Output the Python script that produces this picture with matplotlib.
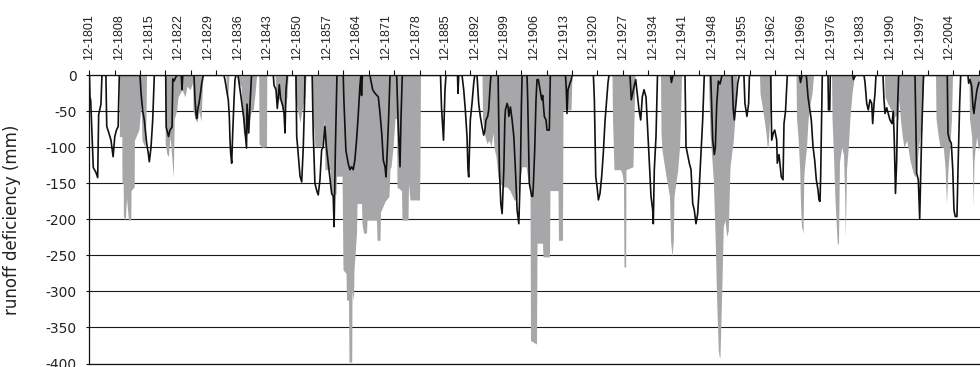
import matplotlib
matplotlib.use("Agg")
import matplotlib.pyplot as plt
from matplotlib.ticker import FixedLocator
from matplotlib import font_manager

# ---------------- data (decimal year, runoff deficiency in mm) ----------------
line_year = [
    1801.92, 1802.04, 1802.21, 1802.82, 1803.46, 1803.86, 1804.09, 1804.63, 1804.87,
    1805.8, 1806.0, 1806.5, 1807.0, 1807.5, 1807.9, 1808.3, 1808.7, 1808.8, 1808.97,
    1813.85, 1814.1, 1814.5, 1814.87, 1815.44, 1815.8, 1816.05, 1816.45, 1816.85, 1817.23,
    1819.92, 1820.04, 1820.58, 1820.94, 1821.41, 1821.6, 1821.88, 1822.35, 1822.59,
    1823.6, 1823.77, 1823.95,
    1826.6, 1826.84, 1827.07, 1827.24, 1827.55, 1827.78, 1828.02, 1828.42, 1828.8,
    1833.67, 1833.9, 1834.3, 1834.7, 1834.94, 1835.1, 1835.26, 1835.5, 1835.74, 1836.05, 1836.28, 1836.52,
    1836.99, 1837.7, 1838.41, 1839.0, 1839.12, 1839.52, 1839.83, 1840.18,
    1845.33, 1845.49, 1845.96, 1846.27, 1846.74, 1847.07, 1847.54, 1847.85, 1848.09, 1848.32, 1848.63,
    1850.68, 1850.85, 1851.08, 1851.63, 1852.03, 1852.4, 1852.69, 1852.81,
    1854.5, 1854.75, 1855.15, 1855.62, 1855.93, 1856.34, 1856.73, 1857.11, 1857.51, 1857.87,
    1858.29, 1859.1, 1859.47, 1859.68, 1859.99, 1860.35,
    1861.83, 1861.99, 1862.46, 1863.0, 1863.4, 1863.8, 1864.18, 1864.58, 1864.98, 1865.36,
    1865.76, 1866.0, 1866.16, 1866.35,
    1868.16, 1868.32, 1868.79, 1869.34, 1870.12, 1870.52, 1870.92, 1871.3, 1871.7, 1871.93,
    1872.24, 1872.57, 1872.88,
    1874.45, 1874.76, 1875.24, 1875.47, 1875.78,
    1884.8, 1885.04, 1885.51, 1885.86, 1886.1,
    1888.82, 1888.93, 1889.1,
    1889.88, 1890.28, 1890.66, 1891.06, 1891.29, 1891.46, 1891.84, 1892.24, 1892.64, 1892.88,
    1893.42, 1893.82, 1894.2, 1894.6, 1895.0, 1895.24, 1895.54, 1895.94, 1896.18, 1896.56, 1896.72,
    1898.4, 1898.71, 1899.04, 1899.35, 1899.75, 1899.99, 1900.13, 1900.53, 1900.77, 1900.94,
    1901.31, 1901.71, 1902.11, 1902.49, 1902.89, 1903.29, 1903.67, 1903.91, 1904.07,
    1905.23, 1905.39, 1905.77, 1906.34, 1906.57, 1906.71, 1907.04, 1907.35, 1907.59, 1907.9,
    1908.29, 1908.7, 1908.93, 1909.31, 1909.71, 1909.95, 1910.49, 1910.73,
    1914.31, 1914.5, 1914.67, 1914.9, 1915.38, 1915.68, 1915.85,
    1920.9, 1921.13, 1921.46, 1921.77, 1922.08, 1922.46, 1922.86, 1923.24, 1923.64, 1924.04,
    1924.35, 1924.58,
    1929.54, 1929.85, 1930.49, 1930.89, 1931.67, 1932.07, 1932.45, 1932.85, 1933.32, 1933.67,
    1934.1, 1934.5, 1934.9, 1935.04, 1935.28, 1935.68, 1936.03,
    1939.1, 1939.33, 1939.69,
    1942.53, 1942.77, 1943.55, 1943.95, 1944.35, 1944.72, 1945.12, 1945.52, 1945.9, 1946.3,
    1946.7, 1947.08,
    1948.6, 1949.07, 1949.45, 1949.69, 1950.02, 1950.4, 1950.8, 1951.27,
    1953.63, 1953.93, 1954.17, 1954.57, 1954.97, 1955.35,
    1956.44, 1956.68, 1957.15, 1957.55, 1957.74,
    1962.76, 1963.0, 1963.38, 1963.71, 1964.18, 1964.32, 1964.72, 1965.27, 1965.67, 1965.9,
    1966.26, 1966.68,
    1969.56, 1969.8, 1970.15,
    1971.17, 1971.57, 1972.35, 1972.75, 1973.15, 1973.53, 1973.93, 1974.16, 1974.4, 1974.56,
    1974.71, 1974.94,
    1976.29, 1976.41, 1976.71, 1976.83,
    1982.12, 1982.31, 1982.78,
    1984.79, 1985.03, 1985.43, 1985.8, 1986.21, 1986.61, 1986.84, 1987.15, 1987.39, 1987.62,
    1989.27, 1989.51, 1989.75, 1990.15, 1990.52, 1990.92, 1991.4, 1991.7, 1991.94, 1992.22,
    1992.5, 1992.74, 1992.98,
    1996.83, 1997.0, 1997.23, 1997.61, 1997.94, 1998.13, 1998.41, 1998.72, 1998.84,
    2004.45, 2004.62, 2005.0, 2005.4, 2005.75, 2006.03, 2006.34, 2006.74, 2006.98, 2007.38, 2007.62,
    2009.33, 2009.5, 2009.81, 2010.21, 2010.52, 2010.75, 2010.99, 2011.46, 2011.93,
]
line_mm = [
    0, -30, -35, -128, -135, -142, -55, -40, 0,
    0, -71, -80, -90, -113, -85, -76, -71, -40, 0,
    0, -25, -50, -62, -95, -108, -120, -100, -62, 0,
    0, -72, -85, -76, -72, -5, -8, -2, 0,
    0, -20, 0,
    0, -34, -53, -60, -45, -39, -30, -11, 0,
    0, -6, -20, -34, -57, -90, -108, -122, -80, -34, -6, 0,
    0, -30, -62, -101, -40, -80, -40, 0,
    0, -14, -20, -46, -13, -33, -42, -52, -80, -20, 0,
    0, -85, -100, -140, -148, -100, -40, 0,
    0, -80, -150, -161, -166, -145, -104, -99, -71, -100,
    -122, -164, -168, -210, -100, 0,
    0, -34, -104, -122, -131, -127, -131, -118, -90, -57,
    -16, 0, -28, 0,
    0, -6, -20, -25, -30, -53, -80, -118, -127, -141,
    -104, -57, 0,
    0, -60, -127, -60, 0,
    0, -45, -90, -20, 0,
    0, -25, 0,
    0, -20, -48, -85, -131, -141, -62, -39, -11, 0,
    0, -39, -57, -71, -83, -78, -62, -57, -48, -11, 0,
    0, -131, -178, -192, -131, -62, -48, -39, -44, -57,
    -44, -62, -85, -131, -187, -206, -131, -39, 0,
    0, -34, -150, -168, -168, -155, -104, -34, -6, -6,
    -20, -34, -28, -57, -62, -76, -76, 0,
    0, -20, -53, -20, -11, -6, 0,
    0, -34, -141, -155, -173, -164, -140, -108, -64, -34,
    -10, 0,
    0, -34, -16, -6, -48, -62, -30, -20, -30, -70,
    -120, -168, -187, -206, -131, -85, 0,
    0, -10, 0,
    0, -99, -122, -131, -178, -187, -206, -192, -155, -108,
    -62, 0,
    0, -90, -110, -100, -40, -8, -12, 0,
    0, -48, -62, -39, -11, 0,
    0, -39, -57, -39, 0,
    0, -90, -80, -76, -90, -122, -110, -141, -145, -67,
    -50, 0,
    0, -10, 0,
    0, -30, -62, -99, -118, -145, -159, -173, -175, -140,
    -85, 0,
    0, -48, -48, 0,
    0, -6, 0,
    0, -10, -39, -48, -34, -39, -67, -40, -25, 0,
    0, -34, -53, -45, -53, -62, -67, -50, -90, -164,
    -120, -40, 0,
    0, -60, -136, -145, -199, -150, -80, -20, 0,
    0, -81, -90, -94, -131, -187, -196, -196, -131, -39, 0,
    0, -11, -6, -15, -44, -53, -40, -20, -10,
]

gray_year = [
    1808.94, 1808.98, 1809.55, 1809.6, 1809.88, 1809.93, 1810.38, 1810.66, 1811.13, 1811.68,
    1811.73, 1812.48, 1812.53, 1812.91, 1813.62, 1814.09, 1814.33, 1815.03, 1815.27, 1815.39,
    1819.75, 1819.8, 1820.15, 1820.53, 1820.94, 1821.34, 1821.72, 1821.93, 1822.12, 1822.52,
    1822.83, 1823.3, 1823.77, 1824.48, 1824.95, 1825.66, 1826.29, 1826.36, 1826.84, 1827.31,
    1827.78, 1828.25, 1828.49, 1828.72,
    1834.15, 1834.27, 1834.63, 1834.86,
    1836.99, 1837.06, 1837.7, 1838.24, 1838.64, 1839.35, 1839.83, 1840.23, 1840.6, 1841.0, 1841.4,
    1841.88, 1841.95, 1842.66, 1843.72, 1843.79,
    1845.73, 1845.85, 1846.2, 1846.91, 1847.38, 1848.09, 1848.56, 1848.8,
    1850.33, 1850.45, 1850.92, 1851.63, 1852.34, 1852.81, 1853.05,
    1854.46, 1854.7, 1855.17, 1856.35, 1857.06, 1857.3, 1857.53, 1858.71, 1858.83, 1860.13,
    1860.25, 1861.55, 1861.78, 1862.49, 1862.61, 1863.08, 1863.2, 1863.84, 1863.91, 1864.26,
    1864.38, 1864.97, 1865.09, 1866.15, 1866.27, 1866.62, 1867.33, 1867.45, 1869.69, 1869.81,
    1870.52, 1870.64, 1871.7, 1872.64, 1872.88, 1873.12, 1873.59, 1874.06, 1874.41, 1874.53,
    1875.59, 1875.71, 1877.13, 1877.25, 1877.6, 1879.84, 1879.96, 1880.08,
    1894.6, 1894.72, 1895.31, 1895.78, 1896.25, 1896.73, 1897.2, 1897.43, 1897.91, 1898.38,
    1898.85, 1899.56, 1900.5, 1901.21, 1902.15, 1902.86, 1903.33, 1904.04, 1904.99, 1905.46,
    1905.93, 1906.05, 1907.47, 1907.59, 1908.88, 1909.0, 1910.53, 1910.65, 1912.54, 1912.66,
    1913.6, 1913.72, 1915.61, 1915.85,
    1925.29, 1925.41, 1925.76, 1927.3, 1927.65, 1928.0, 1928.12, 1928.52, 1928.59, 1930.24,
    1930.48, 1930.72,
    1936.74, 1936.86, 1937.1, 1938.04, 1938.87, 1939.11, 1939.46, 1939.77, 1939.93, 1940.81,
    1941.23, 1941.47, 1941.7,
    1948.03, 1948.43, 1948.83, 1949.21, 1949.61, 1950.0, 1950.38, 1950.67, 1950.79, 1951.19,
    1951.57, 1951.97, 1952.37, 1952.75, 1953.15, 1953.93, 1954.33, 1954.73,
    1960.12, 1960.24, 1960.94, 1961.65, 1961.96, 1962.12, 1962.52, 1962.83, 1962.95,
    1968.74, 1968.86, 1969.21, 1969.61, 1969.8, 1970.04, 1970.39, 1970.58, 1970.86, 1971.21,
    1971.57, 1972.04, 1972.51, 1972.87,
    1977.12, 1977.24, 1977.54, 1977.94, 1978.34, 1978.53, 1978.77, 1979.0, 1979.52, 1979.95,
    1980.19, 1980.38, 1980.66, 1981.08, 1981.49, 1981.96, 1982.55,
    1989.62, 1989.74, 1990.45, 1991.16, 1991.7, 1992.34, 1992.81, 1993.05, 1993.4, 1993.83,
    1994.23, 1994.87, 1995.65, 1996.42, 1996.83, 1997.23, 1997.65, 1998.01, 1998.36, 1998.79,
    1998.96,
    2001.68, 2001.79, 2002.33, 2002.73, 2003.52, 2003.91, 2004.27, 2004.62, 2005.1, 2005.45, 2005.69,
    2009.57, 2009.69, 2010.21, 2010.4, 2010.57, 2010.76, 2010.99, 2011.39, 2011.78, 2012.18,
]
gray_mm = [
    0, -85, -85, -150, -150, -195, -201, -170, -201, -201,
    -160, -155, -90, -85, -75, -40, -90, -100, -60, 0,
    0, -95, -108, -113, -85, -113, -141, -60, -57, -48,
    -30, -25, -20, -30, -15, -20, -10, -48, -60, -65,
    -50, -64, -30, 0,
    0, -30, -25, 0,
    0, -10, -15, -80, -85, -80, -57, -48, -48, -25, 0,
    0, -95, -100, -99, 0,
    0, -20, -40, -30, -48, -45, -30, 0,
    0, -30, -45, -65, -40, -30, 0,
    0, -60, -99, -99, -95, -60, -131, -131, -165, -165,
    -140, -140, -270, -275, -312, -312, -398, -398, -300, -312,
    -270, -219, -178, -178, -206, -219, -219, -201, -201, -229,
    -229, -190, -175, -168, -130, -127, -100, -60, -60, -155,
    -160, -201, -201, -150, -173, -173, -120, 0,
    0, -60, -85, -95, -90, -99, -80, -100, -113, -141,
    -150, -155, -155, -160, -173, -173, -150, -127, -127, -145,
    -160, -368, -373, -233, -233, -252, -252, -160, -160, -229,
    -229, -48, -48, 0,
    0, -60, -131, -131, -136, -150, -266, -266, -131, -127,
    -60, 0,
    0, -80, -104, -140, -168, -229, -252, -229, -168, -131,
    -100, -60, 0,
    0, -80, -113, -145, -219, -312, -381, -393, -390, -303,
    -210, -201, -224, -215, -127, -90, -57, 0,
    0, -25, -50, -80, -101, -100, -62, -34, 0,
    0, -60, -85, -131, -180, -210, -219, -140, -120, -100,
    -62, -40, -25, 0,
    0, -60, -104, -173, -219, -235, -233, -120, -100, -110,
    -160, -224, -130, -100, -57, -25, 0,
    0, -30, -40, -48, -60, -55, -62, -34, -62, -85,
    -100, -90, -118, -136, -141, -130, -100, -85, -57, -16,
    0,
    0, -60, -85, -99, -100, -127, -178, -130, -95, -60, 0,
    0, -60, -85, -120, -182, -120, -104, -85, -104, -95,
]

label_years = [1801.92 + 7 * k for k in range(30)]
x_labels = ['12-1801', '12-1808', '12-1815', '12-1822', '12-1829', '12-1836',
            '12-1843', '12-1850', '12-1857', '12-1864', '12-1871', '12-1878',
            '12-1885', '12-1892', '12-1899', '12-1906', '12-1913', '12-1920',
            '12-1927', '12-1934', '12-1941', '12-1948', '12-1955', '12-1962',
            '12-1969', '12-1976', '12-1983', '12-1990', '12-1997', '12-2004']
tickmark_years = [1801.85 + 6 * k for k in range(36)]
y_ticks = [0, -50, -100, -150, -200, -250, -300, -350, -400]

# pick a narrow sans for the rotated date labels when available
_names = {f.name for f in font_manager.fontManager.ttflist}
if 'Liberation Sans Narrow' in _names:
    xlab_family, xlab_size = 'Liberation Sans Narrow', 10.5
else:
    xlab_family, xlab_size = 'Liberation Sans', 9.0

# ---------------- figure ----------------
W, H = 980, 367
fig = plt.figure(figsize=(W / 100, H / 100), dpi=100)
ax = fig.add_axes([89 / W, 1 - 363.5 / H, (979.5 - 89) / W, (363.5 - 75.3) / H])

ax.fill_between(gray_year, gray_mm, 0, color='#a7a7a9', lw=0, zorder=2)
ax.plot(line_year, line_mm, color='#111111', lw=1.2, zorder=3)

ax.set_xlim(1801.81, 2012.06)
ax.set_ylim(-400, 0)

# horizontal grid
ax.set_yticks(y_ticks)
ax.yaxis.grid(True, color='#1a1a1a', lw=0.8)
ax.set_axisbelow(True)

for s in ['top', 'left', 'bottom']:
    ax.spines[s].set_color('#111111')
    ax.spines[s].set_linewidth(0.9)
ax.spines['right'].set_visible(False)

# x axis on top
ax.xaxis.tick_top()
ax.xaxis.set_major_locator(FixedLocator(label_years))
ax.set_xticklabels(x_labels, rotation=90, fontsize=xlab_size, family=xlab_family,
                   color='#222222', ha='center', va='bottom')
ax.tick_params(axis='x', which='major', length=0, pad=10.8, top=True, bottom=False)
ax.xaxis.set_minor_locator(FixedLocator(tickmark_years))
ax.tick_params(axis='x', which='minor', length=3.6, width=0.8, direction='out',
               top=True, bottom=False, color='#111111')

ax.set_yticklabels([str(v) for v in y_ticks], fontsize=10, family='DejaVu Sans',
                   color='#222222')
ax.tick_params(axis='y', which='major', length=2.5, width=0.8, pad=6.5, color='#111111')

ax.set_ylabel('runoff deficiency (mm)', fontsize=12, family='DejaVu Sans', color='#222222')
ax.yaxis.set_label_coords((21 - 89) / (979.5 - 89), 0.5)

fig.savefig('out.png', dpi=100)
